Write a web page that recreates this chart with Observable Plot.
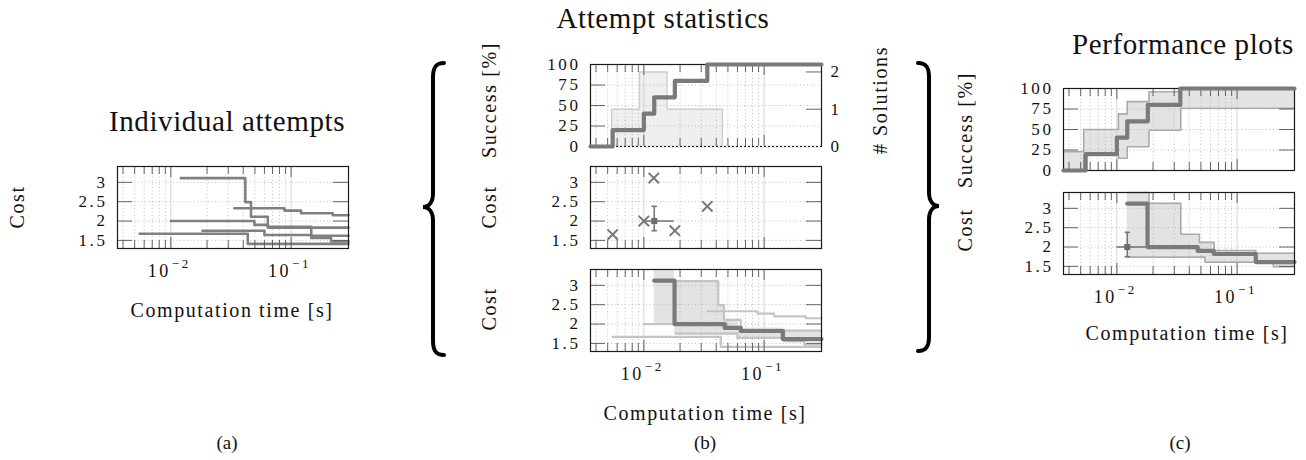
<!DOCTYPE html>
<html><head><meta charset="utf-8">
<script src="https://cdn.jsdelivr.net/npm/d3@7"></script>
<script src="https://cdn.jsdelivr.net/npm/@observablehq/plot@0.6"></script>
<style>
body{margin:0;background:#fff;}
#fig{position:relative;width:1306px;height:460px;overflow:hidden;font-family:"Liberation Serif","DejaVu Serif",serif;color:#111;background:#fff;}
.abs{position:absolute;white-space:nowrap;transform:translate(-50%,-50%);line-height:1;}
.rot{transform:translate(-50%,-50%) rotate(-90deg);}
.title{font-size:29px;letter-spacing:0.6px;}
.lab{font-size:20px;letter-spacing:1.6px;}
.cap{font-size:19px;}
</style></head><body><div id="fig"></div>
<script>
// ---------- data ----------
const timeDomain = [0.0036, 0.3];
const costDomain = [1.29, 3.41];
const successDomain = [0, 100];
const costTicks = [1.5, 2, 2.5, 3];
const successTicks = [0, 25, 50, 75, 100];
const solutionTicks = [0, 1, 2];
const solutionMax = 2.2;
const decadeTicks = [0.01, 0.1];
const minorTicks = [0.004, 0.005, 0.006, 0.007, 0.008, 0.009, 0.02, 0.03, 0.04, 0.05, 0.06, 0.07, 0.08, 0.09];

// (a) individual attempts: [time s, cost] at each improvement (last point = end of run)
const runA = [[0.0121, 3.11], [0.0416, 2.49], [0.0464, 2.11], [0.064, 1.83], [0.3, 1.83]];
const runB = [[0.0100, 2.00], [0.0495, 1.90], [0.064, 1.85], [0.147, 1.62], [0.3, 1.62]];
const runC = [[0.0055, 1.67], [0.0436, 1.41], [0.3, 1.41]];
const runD = [[0.0183, 1.75], [0.0600, 1.64], [0.147, 1.56], [0.215, 1.47], [0.3, 1.47]];
const runE = [[0.0337, 2.33], [0.088, 2.27], [0.121, 2.20], [0.222, 2.15], [0.3, 2.15]];
const runNames = ["A", "B", "C", "D", "E"];

// success rate [%] over time
const successTime = [0.0036, 0.0055, 0.0100, 0.0122, 0.0181, 0.0337, 0.3];
const successRate = [0, 20, 40, 60, 80, 100, 100];

// success confidence band (c)
const successBandTime = [0.0036, 0.0053, 0.0103, 0.0122, 0.0185, 0.034, 0.3];
const successUpper = [23, 50, 69, 84, 96, 100, 100];
const successLower = [0, 19, 15, 29, 49, 76, 76];

// histogram of # solutions (b, right axis)
const binEdges = [0.0054, 0.0092, 0.0156, 0.0265, 0.045];
const binCounts = [1, 2, 1, 1];

// first solutions (b middle)
const firstTime = [0.0055, 0.0100, 0.0121, 0.0181, 0.0337];
const firstCost = [1.65, 2.00, 3.11, 1.75, 2.38];
const medFirstTime = 0.0122;
const medFirstCost = 2.0;
const firstTimeIQR = [0.0100, 0.0179];
const firstCostIQR = [1.75, 2.38];

// median cost over time
const medianTime = [0.0122, 0.0180, 0.0470, 0.0640, 0.143, 0.3];
const medianCost = [3.12, 2.00, 1.90, 1.82, 1.61, 1.61];

// cost band (c)
const bandTime  = [0.0122, 0.0185, 0.034, 0.0485, 0.054, 0.0645, 0.143, 0.2, 0.3];
const bandUpper = [3.41, 3.13, 2.33, 2.12, 2.12, 1.91, 1.84, 1.84, 1.84];
const bandLower = [1.74, 1.74, 1.74, 1.74, 1.61, 1.61, 1.61, 1.49, 1.49];

// cost band (b bottom)
const bandBTime  = [0.0122, 0.0180, 0.0416, 0.0464, 0.060, 0.143, 0.3];
const bandBUpper = [3.41, 3.11, 2.49, 2.11, 1.90, 1.84, 1.84];
const bandBLower = [2.00, 1.74, 1.74, 1.74, 1.64, 1.56, 1.56];

// ---------- derived tables ----------
const runs = [runA, runB, runC, runD, runE].flatMap((r, i) => r.map(([t, cost]) => ({run: runNames[i], t, cost})));
const success = successTime.map((t, i) => ({t, s: successRate[i]}));
const successBand = successBandTime.map((t, i) => ({t, lo: successLower[i], hi: successUpper[i]}));
const solK = 100 / solutionMax;
const hist = [{t: binEdges[0], n: 0}, ...binCounts.map((n, i) => ({t: binEdges[i], n: n * solK})), {t: binEdges[binEdges.length - 1], n: 0}];
const firstPts = firstTime.map((t, i) => ({t, cost: firstCost[i]}));
const median = medianTime.map((t, i) => ({t, cost: medianCost[i]}));
const band = bandTime.map((t, i) => ({t, lo: bandLower[i], hi: bandUpper[i]}));
const bandB = bandBTime.map((t, i) => ({t, lo: bandBLower[i], hi: bandBUpper[i]}));

// ---------- layout ----------
const fig = document.getElementById("fig");
const FW = 231, FH = 82, ML = 50, MR = 40, MT = 6, MB = 6;
const FONT = '"Liberation Serif", "DejaVu Serif", serif';
const DARK = "#7a7a7a", RUN = "#808080", LIGHT = "#c4c4c4", BANDF = "#e3e3e3", BANDS = "#aaaaaa";

function grid(yT) { return [
  Plot.ruleX(minorTicks, {stroke: "#b0b0b0", strokeDasharray: "1,2.5", strokeWidth: 0.8}),
  Plot.ruleX(decadeTicks, {stroke: "#cccccc", strokeWidth: 0.8}),
  Plot.ruleY(yT, {stroke: "#b0b0b0", strokeDasharray: "1,2.5", strokeWidth: 0.8})
];}
function ticks(yL, yR) { const o = {stroke: "#555", strokeWidth: 0.9}; return [
  Plot.ruleX(minorTicks, {...o, insetBottom: FH - 8}),
  Plot.ruleX(minorTicks, {...o, insetTop: FH - 8}),
  Plot.ruleX(decadeTicks, {...o, insetBottom: FH - 11}),
  Plot.ruleX(decadeTicks, {...o, insetTop: FH - 11}),
  Plot.ruleY(yL, {...o, insetRight: FW - 15}),
  Plot.ruleY(yR, {...o, insetLeft: FW - 15})
];}
const frame = () => Plot.frame({stroke: "#1a1a1a", strokeWidth: 1.2});
const yLabels = (yT) => Plot.axisY({ticks: yT, anchor: "left", tickSize: 0, tickPadding: 10, tickFormat: d => String(d), label: null, fontSize: 17, fontFamily: FONT});
const xLabels = () => [
  Plot.text(decadeTicks, {x: d => d, frameAnchor: "bottom", text: () => "10", dy: 28, textAnchor: "end", fontSize: 18, fontFamily: FONT}),
  Plot.text(decadeTicks, {x: d => d, frameAnchor: "bottom", text: d => "\u2212" + Math.round(-Math.log10(d)), dy: 19, dx: 1, textAnchor: "start", fontSize: 13, fontFamily: FONT})
];
const hCap = {draw(ctx, size) { const r = Math.sqrt(size) / 2; ctx.moveTo(-r, 0); ctx.lineTo(r, 0); }};
const errorBar = () => [
  Plot.ruleY([{y: medFirstCost, x1: firstTimeIQR[0], x2: firstTimeIQR[1]}], {y: "y", x1: "x1", x2: "x2", stroke: "#777", strokeWidth: 1.6}),
  Plot.ruleX([{x: medFirstTime, y1: firstCostIQR[0], y2: firstCostIQR[1]}], {x: "x", y1: "y1", y2: "y2", stroke: "#777", strokeWidth: 1.6}),
  Plot.dot(firstCostIQR, {x: () => medFirstTime, y: d => d, symbol: hCap, r: 3, stroke: "#777", strokeWidth: 1.6}),
  Plot.dot([medFirstCost], {x: () => medFirstTime, y: d => d, symbol: "square", r: 3.4, fill: "#6c6c6c"})
];

function panel(left, top, yDomain, marks) {
  const svg = Plot.plot({
    width: FW + ML + MR, height: FH + MT + MB,
    marginLeft: ML, marginRight: MR, marginTop: MT, marginBottom: MB,
    x: {type: "log", domain: timeDomain, axis: null},
    y: {domain: yDomain, axis: null},
    style: {background: "transparent", fontFamily: FONT, fontSize: "17px", color: "#111", overflow: "visible", letterSpacing: "2.6px"},
    marks
  });
  svg.style.position = "absolute";
  svg.style.left = (left - ML) + "px";
  svg.style.top = (top - MT) + "px";
  fig.appendChild(svg);
}

// (a)
panel(117, 166, costDomain, [
  ...grid(costTicks),
  Plot.line(runs, {x: "t", y: "cost", z: "run", curve: "step-after", stroke: RUN, strokeWidth: 2.6}),
  ...ticks(costTicks, costTicks), frame(), yLabels(costTicks), ...xLabels()
]);

// (b) top
panel(590, 64, successDomain, [
  Plot.areaY(hist, {x: "t", y: "n", curve: "step-after", fill: "#efefef"}),
  ...grid(successTicks),
  Plot.line(hist, {x: "t", y: "n", curve: "step-after", stroke: "#cdcdcd", strokeWidth: 1.4}),
  ...ticks(successTicks, solutionTicks.map(n => n * solK)),
  frame(),
  Plot.ruleY([0], {stroke: "#fff", strokeWidth: 1.6, strokeDasharray: "2,2"}),
  Plot.line(success, {x: "t", y: "s", curve: "step-after", stroke: DARK, strokeWidth: 4.2}),
  yLabels(successTicks),
  Plot.axisY({ticks: solutionTicks.map(n => n * solK), anchor: "right", tickSize: 0, tickPadding: 9, tickFormat: d => String(Math.round(d / solK)), label: null, fontSize: 17, fontFamily: FONT})
]);

// (b) middle
panel(590, 166, costDomain, [
  ...grid(costTicks),
  Plot.dot(firstPts, {x: "t", y: "cost", symbol: "times", r: 4.8, stroke: "#777", strokeWidth: 2}),
  ...errorBar(),
  ...ticks(costTicks, costTicks), frame(), yLabels(costTicks)
]);

// (b) bottom
panel(590, 269, costDomain, [
  Plot.areaY(bandB, {x: "t", y1: "lo", y2: "hi", curve: "step-after", fill: BANDF}),
  ...grid(costTicks),
  Plot.line(runs, {x: "t", y: "cost", z: "run", curve: "step-after", stroke: LIGHT, strokeWidth: 2.2}),
  Plot.line(median, {x: "t", y: "cost", curve: "step-after", stroke: DARK, strokeWidth: 4.2}),
  ...ticks(costTicks, costTicks), frame(), yLabels(costTicks), ...xLabels()
]);

// (c) top
panel(1063, 88, successDomain, [
  Plot.areaY(successBand, {x: "t", y1: "lo", y2: "hi", curve: "step-after", fill: BANDF}),
  ...grid(successTicks),
  Plot.line(successBand, {x: "t", y: "hi", curve: "step-after", stroke: BANDS, strokeWidth: 1.6}),
  Plot.line(successBand, {x: "t", y: "lo", curve: "step-after", stroke: BANDS, strokeWidth: 1.6}),
  ...ticks(successTicks, successTicks), frame(),
  Plot.line(success, {x: "t", y: "s", curve: "step-after", stroke: DARK, strokeWidth: 4.2}),
  yLabels(successTicks)
]);

// (c) bottom
panel(1063, 192, costDomain, [
  Plot.areaY(band, {x: "t", y1: "lo", y2: "hi", curve: "step-after", fill: BANDF}),
  ...grid(costTicks),
  Plot.line(band, {x: "t", y: "hi", curve: "step-after", stroke: BANDS, strokeWidth: 1.6}),
  Plot.line(band, {x: "t", y: "lo", curve: "step-after", stroke: BANDS, strokeWidth: 1.6}),
  Plot.line(median, {x: "t", y: "cost", curve: "step-after", stroke: DARK, strokeWidth: 4.2}),
  ...errorBar(),
  ...ticks(costTicks, costTicks), frame(), yLabels(costTicks), ...xLabels()
]);

// ---------- texts ----------
function addText(str, x, y, cls, rot) {
  const d = document.createElement("div");
  d.className = "abs " + cls + (rot ? " rot" : "");
  d.textContent = str;
  d.style.left = x + "px"; d.style.top = y + "px";
  fig.appendChild(d);
}
addText("Individual attempts", 227, 121, "title");
addText("Attempt statistics", 663, 18, "title");
addText("Performance plots", 1183, 44, "title");
addText("Cost", 17, 207, "lab", true);
addText("Computation time [s]", 232, 310, "lab");
addText("Success [%]", 489, 100, "lab", true);
addText("Cost", 489, 207, "lab", true);
addText("Cost", 489, 309, "lab", true);
addText("# Solutions", 880, 100, "lab", true);
addText("Computation time [s]", 705, 413, "lab");
addText("Success [%]", 965, 130, "lab", true);
addText("Cost", 965, 230, "lab", true);
addText("Computation time [s]", 1187, 333, "lab");
addText("(a)", 227, 442, "cap");
addText("(b)", 705, 442, "cap");
addText("(c)", 1180, 442, "cap");

// ---------- braces (decoration) ----------
function brace(left, top, w, h, m, flip) {
  const svg = d3.create("svg").attr("width", w).attr("height", h)
    .style("position", "absolute").style("left", left + "px").style("top", top + "px").style("overflow", "visible");
  const s = 11, e = w - 2;
  const p = `M${e},2 C${s + 4},2 ${s},5 ${s},16 L${s},${m - 14} C${s},${m - 5} ${s - 4},${m} 1,${m} C${s - 4},${m} ${s},${m + 5} ${s},${m + 14} L${s},${h - 16} C${s},${h - 5} ${s + 4},${h - 2} ${e},${h - 2}`;
  svg.append("path").attr("d", p).attr("fill", "none").attr("stroke", "#000").attr("stroke-width", 4).attr("stroke-linecap", "round")
    .attr("transform", flip ? `translate(${w},0) scale(-1,1)` : null);
  fig.appendChild(svg.node());
}
brace(422, 61, 24, 296, 146, false);
brace(916, 61, 24, 292, 145, true);
</script></body></html>
